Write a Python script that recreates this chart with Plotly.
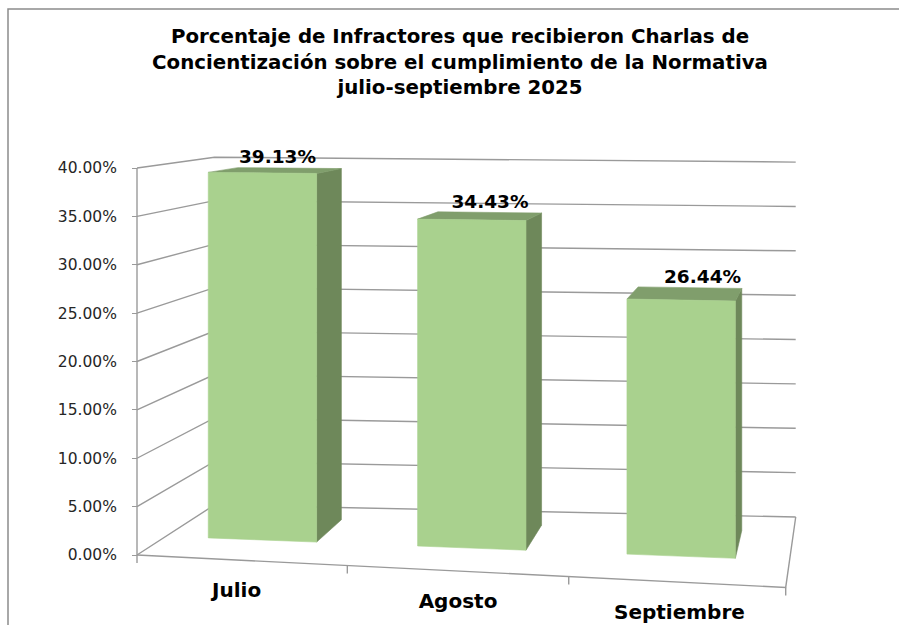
import plotly.graph_objects as go

# ---------------- data ----------------
categories = ["Julio", "Agosto", "Septiembre"]
values = [0.3913, 0.3443, 0.2644]
tick_values = [0.00, 0.05, 0.10, 0.15, 0.20, 0.25, 0.30, 0.35, 0.40]
tick_labels = [f"{v * 100:.2f}%" for v in tick_values]
value_labels = [f"{v * 100:.2f}%" for v in values]
title_lines = [
    "Porcentaje de Infractores que recibieron Charlas de",
    "Concientización sobre el cumplimiento de la Normativa",
    "julio-septiembre 2025",
]

# ---------------- geometry / style ----------------
W, H = 899, 625
PLOT_L, PLOT_R, PLOT_T, PLOT_B = 110, 830, 140, 625   # plot area in px
AXIS_PX, ZERO_PY = 137, 555                             # front axis x, 0% y
SX, SY = 221.4, 967.5                                   # px per category unit / per value unit
U_L, U_R = -0.45, 2.48                                  # floor / wall extent in category units
VP_U = U_L + (882 - AXIS_PX) / SX                       # vanishing point (data units)
VP_V = (ZERO_PY - 58) / SY
T_WALL, T_FRONT, T_BACK = 0.104, 0.04, 0.082            # depth fractions
BAR_W = 0.51
BAR_SHIFT = -0.015

GRID = "#9a9a9a"
FRONT_C, SIDE_C, TOP_C = "#a9d18e", "#6e885a", "#809e6c"
FONT = "DejaVu Sans"


def proj(u, v, t):
    """Simple perspective of (category, value, depth) into the 2-D data plane."""
    s_front = 0.05 - 0.10 * v
    s_back = 0.0208 - 0.031 * v
    s = s_front + (s_back - s_front) * (t / T_WALL)
    up = u + t * (VP_U - u)
    vp = v + t * (VP_V - v)
    vp -= s * (up - U_L) * SX / SY
    return up, vp


fig = go.Figure()

# ---- walls: left wall and back wall gridlines ----
gx, gy = [], []
for v in tick_values:
    for (u, t) in [(U_L, 0), (U_L, T_WALL), (U_R, T_WALL)]:
        x, y = proj(u, v, t)
        gx.append(x); gy.append(y)
    gx.append(None); gy.append(None)
# floor front edge + right floor edge
for (u, t) in [(U_L, 0), (U_R, 0), (U_R, T_WALL)]:
    x, y = proj(u, 0, t)
    gx.append(x); gy.append(y)
gx.append(None); gy.append(None)
# front value axis line
for v in (0, tick_values[-1]):
    x, y = proj(U_L, v, 0)
    gx.append(x); gy.append(y)
gx.append(None); gy.append(None)
# category boundary ticks on the floor front edge
for u in [U_L, 0.5, 1.5, U_R]:
    x, y = proj(u, 0, 0)
    gx += [x, x, None]; gy += [y, y - 8 / SY, None]

fig.add_trace(go.Scatter(x=gx, y=gy, mode="lines",
                         line=dict(color=GRID, width=1.4),
                         hoverinfo="skip", showlegend=False))

# ---- bars ----
def poly(pts, color):
    xs, ys = zip(*pts)
    fig.add_trace(go.Scatter(x=list(xs) + [xs[0]], y=list(ys) + [ys[0]],
                             mode="lines", fill="toself", fillcolor=color,
                             line=dict(color=color, width=0.6),
                             hoverinfo="skip", showlegend=False))

for i, val in enumerate(values):
    c = i + BAR_SHIFT * i
    u0, u1 = c - BAR_W / 2, c + BAR_W / 2
    poly([proj(u1, 0, T_FRONT), proj(u1, val, T_FRONT),
          proj(u1, val, T_BACK), proj(u1, 0, T_BACK)], SIDE_C)
    poly([proj(u0, val, T_FRONT), proj(u1, val, T_FRONT),
          proj(u1, val, T_BACK), proj(u0, val, T_BACK)], TOP_C)
    poly([proj(u0, 0, T_FRONT), proj(u1, 0, T_FRONT),
          proj(u1, val, T_FRONT), proj(u0, val, T_FRONT)], FRONT_C)

# ---- value labels (above the bar top, slightly right of centre) ----
lx, ly = [], []
for i, val in enumerate(values):
    x, _ = proj(i, val, T_FRONT)
    _, y = proj(i, val, T_BACK)
    lx.append(x + 15 / SX); ly.append(y)
fig.add_trace(go.Scatter(x=lx, y=ly, mode="text", text=value_labels,
                         textposition="top center",
                         textfont=dict(family=FONT, size=18.5, color="#000000", weight="bold"),
                         hoverinfo="skip", showlegend=False, cliponaxis=False))

# ---- category labels ----
cx, cy = [], []
for i, _ in enumerate(categories):
    x, y = proj(i, 0, 0)
    cx.append(x); cy.append(y - 32 / SY)
fig.add_trace(go.Scatter(x=cx, y=cy, mode="text", text=categories,
                         textposition="middle center",
                         textfont=dict(family=FONT, size=20, color="#000000", weight="bold"),
                         hoverinfo="skip", showlegend=False, cliponaxis=False))

# ---- layout ----
plot_w = PLOT_R - PLOT_L
plot_h = PLOT_B - PLOT_T
x_range = [U_L - (AXIS_PX - PLOT_L) / SX, U_L + (PLOT_R - AXIS_PX) / SX]
y_range = [(ZERO_PY - PLOT_B) / SY, (ZERO_PY - PLOT_T) / SY]


def px_x(px):
    return (px - PLOT_L) / plot_w


def px_y(py):
    return (PLOT_B - py) / plot_h


fig.update_layout(
    width=W, height=H,
    margin=dict(l=PLOT_L, r=W - PLOT_R, t=PLOT_T, b=H - PLOT_B),
    paper_bgcolor="white", plot_bgcolor="white",
    title=dict(text="<br>".join(title_lines),
               font=dict(family=FONT, size=19.8, color="#000000", weight="bold"),
               x=460 / W, xanchor="center", xref="container",
               y=1 - 43 / H, yanchor="top", yref="container"),
    xaxis=dict(range=x_range, visible=False, fixedrange=True),
    yaxis=dict(range=y_range, anchor="free", position=px_x(AXIS_PX),
               tickvals=tick_values, ticktext=tick_labels,
               ticks="outside", ticklen=5, tickcolor=GRID, tickwidth=1.2,
               showgrid=False, zeroline=False, showline=False,
               ticklabelstandoff=12,
               tickfont=dict(family=FONT, size=15.5, color="#262626"),
               fixedrange=True),
    shapes=[dict(type="path", xref="paper", yref="paper",
                 path=f"M {px_x(8)},{px_y(H)} L {px_x(8)},{px_y(9)} L {px_x(W)},{px_y(9)}",
                 line=dict(color="#8c8c8c", width=1.5))],
    showlegend=False,
)

fig.write_html(
    "out.html",
    config={"displayModeBar": False},
    post_script="document.body.style.margin='0px';document.body.style.overflow='hidden';",
)
